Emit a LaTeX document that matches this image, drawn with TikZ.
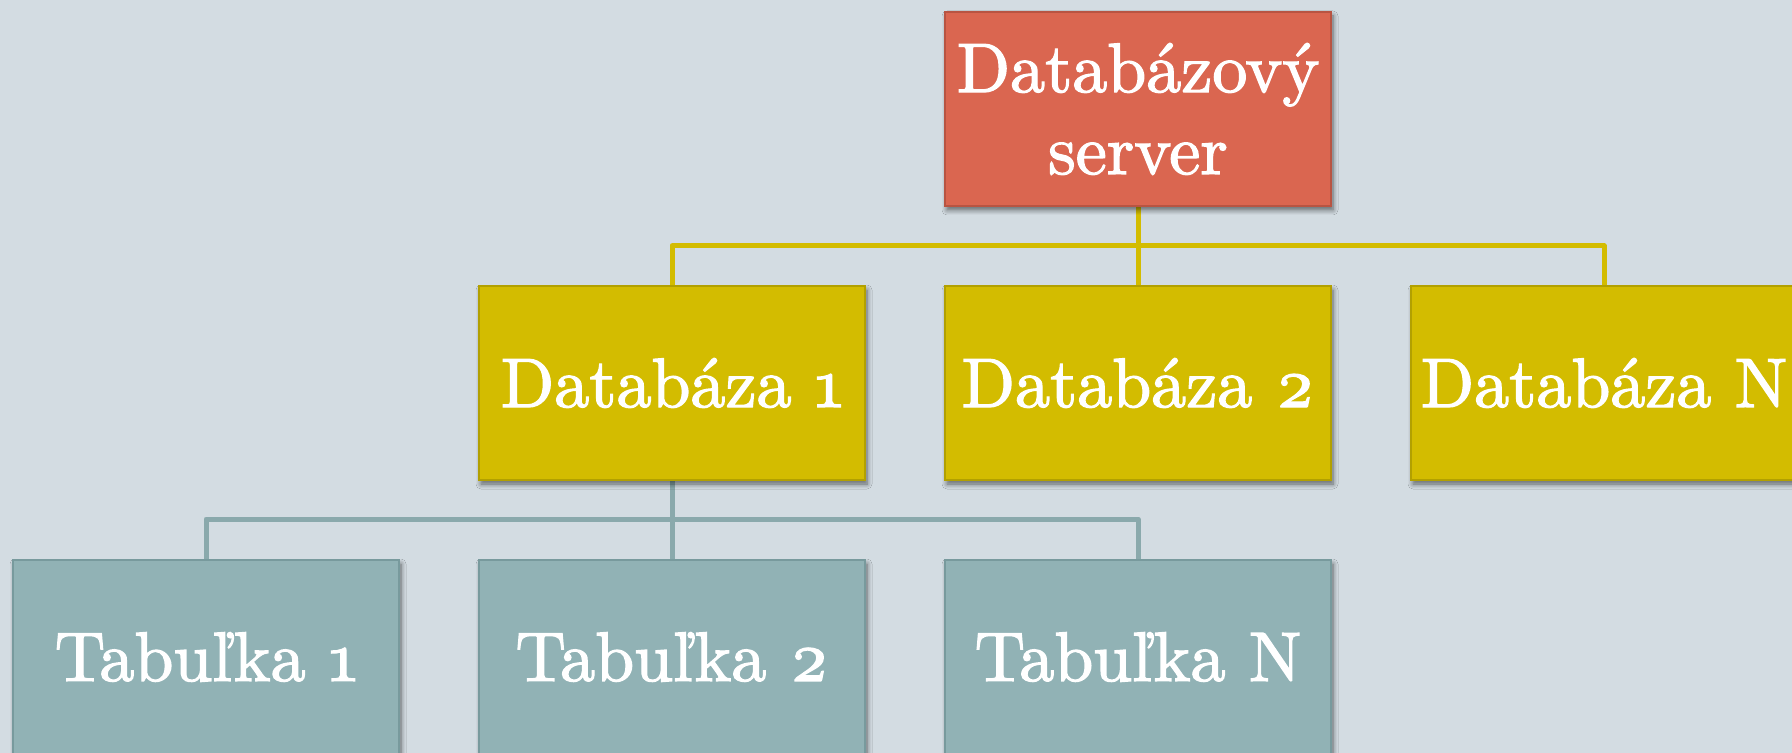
\documentclass[tikz,border=0pt]{standalone}
\usepackage{fontspec}
\usetikzlibrary{shadows.blur}
\newfontfamily\geo{lmroman10-regular.otf}[Numbers=OldStyle,FakeBold=1.8]
\definecolor{bgc}{HTML}{D3DCE2}
\definecolor{redf}{HTML}{DA6650}
\definecolor{redd}{HTML}{B85442}
\definecolor{yelf}{HTML}{D3BC00}
\definecolor{yeld}{HTML}{B2A000}
\definecolor{teaf}{HTML}{91B2B5}
\definecolor{tead}{HTML}{789A9D}
\pgfdeclarelayer{bg}
\pgfsetlayers{bg,main}
\tikzset{
  box/.style={minimum width=193pt, minimum height=97pt, inner sep=0pt,
    align=center, text=white, line width=0.8pt,
    font=\geo\fontsize{35}{41}\selectfont,
    blur shadow={shadow xshift=1pt, shadow yshift=-2pt, shadow blur steps=6, shadow blur radius=2.5pt, shadow opacity=55}},
  srvbox/.style={box, fill=redf, draw=redd},
  dbbox/.style={box, fill=yelf, draw=yeld},
  tbbox/.style={box, fill=teaf, draw=tead},
  ylink/.style={draw=yelf, line width=2.5pt, line join=round},
  tlink/.style={draw=teaf!95!black, line width=2.5pt, line join=round},
}
\begin{document}
\begin{tikzpicture}[x=0.5pt,y=-0.5pt]
\useasboundingbox (0,0) rectangle (1792,753);
\node[srvbox] (srv) at (1138,109) {Databázový\\server};
\node[dbbox] (d1) at (672,383) {Databáza 1};
\node[dbbox] (d2) at (1138,383) {Databáza 2};
\node[dbbox] (dN) at (1604,383) {Databáza N};
\node[tbbox] (t1) at (206,657) {Tabuľka 1};
\node[tbbox] (t2) at (672,657) {Tabuľka 2};
\node[tbbox] (tN) at (1138,657) {Tabuľka N};
\coordinate (yb) at (1138,245.7);
\coordinate (tb) at (672,519);
\begin{pgfonlayer}{bg}
\fill[bgc] (0,0) rectangle (1792,753);
\draw[ylink] (srv.south) -- (d2.north);
\draw[ylink] (d1.north) |- (yb) -| (dN.north);
\draw[tlink] (d1.south) -- (t2.north);
\draw[tlink] (t1.north) |- (tb) -| (tN.north);
\end{pgfonlayer}
\end{tikzpicture}
\end{document}
